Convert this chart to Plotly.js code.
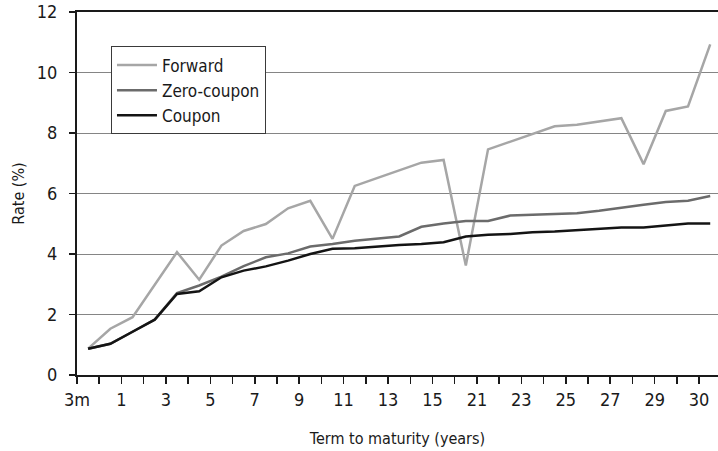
<!DOCTYPE html>
<html>
<head>
<meta charset="utf-8">
<script src="https://cdn.plot.ly/plotly-3.0.1.min.js"></script>
<style>
  html, body { margin: 0; padding: 0; background: #fff; }
  #chart { width: 718px; height: 451px; }
  #chart text { font-stretch: condensed; }
</style>
</head>
<body>
<div id="chart"></div>
<script>
// labels shown under every second category
var tickLabels = ['3m', '1', '3', '5', '7', '9', '11', '13', '15', '21', '23', '25', '27', '29', '30'];

var forwardVal = [0.87, 1.53, 1.91, 2.99, 4.06, 3.15, 4.28, 4.76, 4.99, 5.51, 5.76, 4.50, 6.25, 6.51, 6.76,
                  7.02, 7.11, 3.62, 7.46, 7.72, 7.97, 8.22, 8.27, 8.38, 8.49, 6.97, 8.73, 8.88, 10.93];
var zeroVal = [0.87, 1.03, 1.43, 1.83, 2.71, 2.96, 3.25, 3.60, 3.89, 4.02, 4.25, 4.33, 4.44, 4.50, 4.58,
               4.90, 5.01, 5.09, 5.09, 5.27, 5.30, 5.31, 5.35, 5.43, 5.54, 5.63, 5.72, 5.76, 5.92];
var couponVal = [0.87, 1.03, 1.43, 1.83, 2.68, 2.77, 3.23, 3.45, 3.59, 3.78, 4.00, 4.17, 4.19, 4.25, 4.30,
                 4.33, 4.39, 4.58, 4.64, 4.66, 4.72, 4.74, 4.79, 4.85, 4.88, 4.88, 4.94, 5.01, 5.01];

var FONT = '"DejaVu Sans Condensed", "DejaVu Sans", sans-serif';

// points sit in the middle of each category slot, ticks on the slot edges
function centers(values) {
    return values.map(function (v, i) { return i + 0.5; });
}

function createLineObject(y, name, color) {
    return {
        x: centers(y),
        y: y,
        mode: 'lines',
        name: name,
        line: { width: 2.5, color: color }
    };
}

var tickVals = [];
var tickText = [];
for (var i = 0; i < forwardVal.length; i++) {
    tickVals.push(i);
    tickText.push(i % 2 === 0 ? tickLabels[i / 2] : '');
}

var data = [
    createLineObject(forwardVal, 'Forward', '#a6a6a6'),
    createLineObject(zeroVal, 'Zero-coupon', '#6b6b6b'),
    createLineObject(couponVal, 'Coupon', '#141414')
];

var layout = {
    width: 718,
    height: 451,
    margin: { l: 77, r: 0, t: 12, b: 76 },
    paper_bgcolor: '#fff',
    plot_bgcolor: '#fff',
    font: { family: FONT, size: 18, color: '#1a1a1a' },
    showlegend: true,
    legend: {
        x: 0.053, y: 0.905,
        xanchor: 'left', yanchor: 'top',
        bgcolor: '#fff',
        bordercolor: '#3a3a3a',
        borderwidth: 1,
        itemwidth: 40,
        entrywidth: 144,
        font: { family: FONT, size: 17, color: '#1a1a1a' }
    },
    xaxis: {
        range: [0, 28.85],
        tickmode: 'array',
        tickvals: tickVals,
        ticktext: tickText,
        ticks: 'outside',
        ticklen: 7,
        tickwidth: 1.5,
        tickcolor: '#1a1a1a',
        showline: true,
        linecolor: '#1a1a1a',
        linewidth: 2,
        mirror: true,
        showgrid: false,
        zeroline: false,
        tickfont: { family: FONT, size: 18, color: '#1a1a1a' },
        title: { text: 'Term to maturity (years)', standoff: 24, font: { family: FONT, size: 16, color: '#1a1a1a' } }
    },
    yaxis: {
        range: [0, 12],
        dtick: 2,
        ticks: 'outside',
        ticklen: 6,
        tickwidth: 1.5,
        tickcolor: '#1a1a1a',
        showline: true,
        linecolor: '#1a1a1a',
        linewidth: 2,
        showgrid: true,
        gridcolor: '#858585',
        gridwidth: 1,
        zeroline: false,
        ticklabelstandoff: 8,
        tickfont: { family: FONT, size: 18, color: '#1a1a1a' },
        title: { text: 'Rate (%)', standoff: 8, font: { family: FONT, size: 16, color: '#1a1a1a' } }
    }
};

Plotly.newPlot('chart', data, layout, { displayModeBar: false, staticPlot: true });
</script>
</body>
</html>
